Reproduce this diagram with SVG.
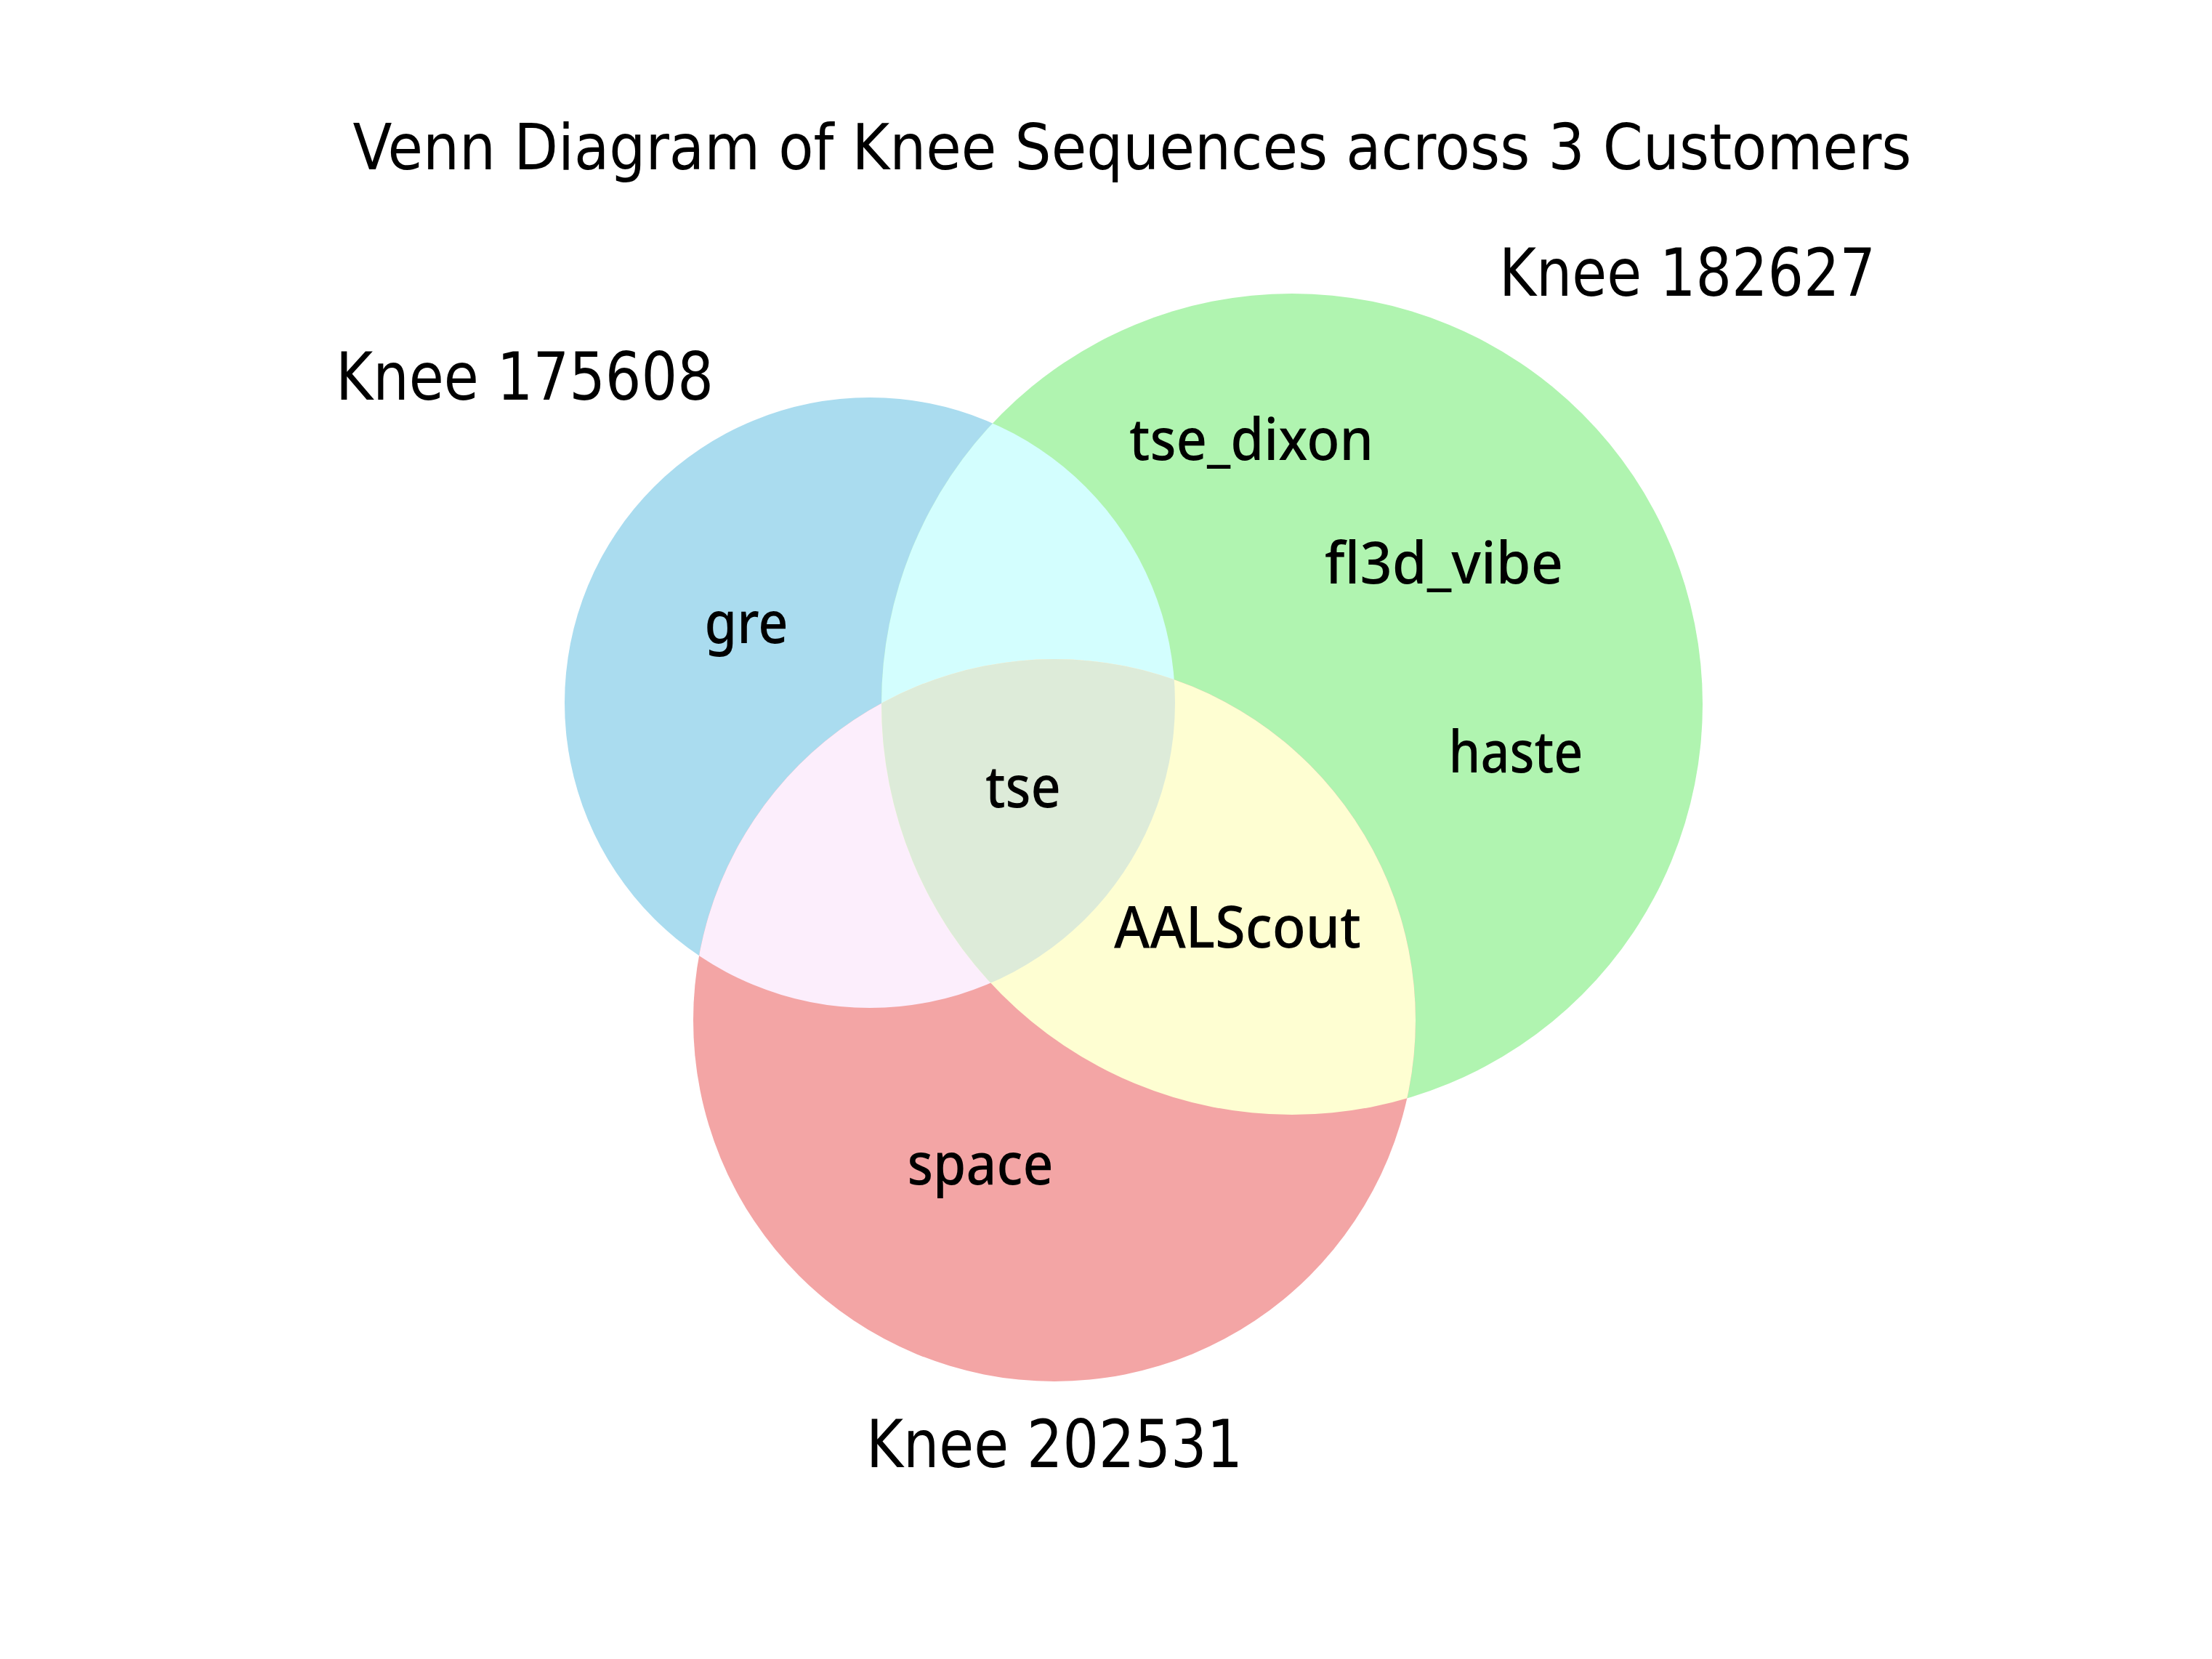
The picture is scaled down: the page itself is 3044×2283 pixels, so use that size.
<svg xmlns="http://www.w3.org/2000/svg" width="3044" height="2283" viewBox="0 0 3044 2283">
  <style>
    .title { font-family: "DejaVu Sans", "Liberation Sans", sans-serif; font-size: 87px; fill: #000; }
    .setlbl { font-family: "DejaVu Sans", "Liberation Sans", sans-serif; font-size: 90px; fill: #000; }
    .sub { font-family: "Noto Sans", "Open Sans", sans-serif; font-size: 80px; font-weight: 500; fill: #000; }
  </style>
  <defs>
    <clipPath id="cA"><circle cx="1197" cy="967" r="420"/></clipPath>
    <clipPath id="cB"><circle cx="1778" cy="969" r="565"/></clipPath>
    <clipPath id="cC"><circle cx="1451" cy="1404" r="497"/></clipPath>
  </defs>
  <rect width="3044" height="2283" fill="#ffffff"/>

  <g id="title">
    <text class="title" x="1558" y="233" text-anchor="middle" textLength="2145" lengthAdjust="spacingAndGlyphs">Venn Diagram of Knee Sequences across 3 Customers</text>
  </g>

  <g id="set-175608">
    <circle cx="1197" cy="967" r="420" fill="#AADCEF"/>
  </g>
  <g id="set-182627">
    <circle cx="1778" cy="969" r="565" fill="#B0F4B0"/>
  </g>
  <g id="set-202531">
    <circle cx="1451" cy="1404" r="497" fill="#F3A5A5"/>
  </g>

  <g id="intersections">
    <g id="ab" clip-path="url(#cA)"><circle cx="1778" cy="969" r="565" fill="#D3FEFE"/></g>
    <g id="ac" clip-path="url(#cA)"><circle cx="1451" cy="1404" r="497" fill="#FCEEFC"/></g>
    <g id="bc" clip-path="url(#cB)"><circle cx="1451" cy="1404" r="497" fill="#FEFED2"/></g>
    <g id="abc" clip-path="url(#cA)"><g clip-path="url(#cB)"><circle cx="1451" cy="1404" r="497" fill="#DDEBD9"/></g></g>
  </g>

  <g id="set-labels">
    <text class="setlbl" x="722" y="550" text-anchor="middle" textLength="520" lengthAdjust="spacingAndGlyphs">Knee 175608</text>
    <text class="setlbl" x="2322" y="407" text-anchor="middle" textLength="518" lengthAdjust="spacingAndGlyphs">Knee 182627</text>
    <text class="setlbl" x="1451" y="2019" text-anchor="middle" textLength="518" lengthAdjust="spacingAndGlyphs">Knee 202531</text>
  </g>

  <g id="subset-labels">
    <text class="sub" x="1027" y="885" text-anchor="middle" textLength="115" lengthAdjust="spacingAndGlyphs">gre</text>
    <text class="sub" x="1722" y="633" text-anchor="middle" textLength="336" lengthAdjust="spacingAndGlyphs">tse_dixon</text>
    <text class="sub" x="1987" y="803" text-anchor="middle" textLength="328" lengthAdjust="spacingAndGlyphs">fl3d_vibe</text>
    <text class="sub" x="2086" y="1063" text-anchor="middle" textLength="185" lengthAdjust="spacingAndGlyphs">haste</text>
    <text class="sub" x="1408" y="1111" text-anchor="middle" textLength="104" lengthAdjust="spacingAndGlyphs">tse</text>
    <text class="sub" x="1703" y="1304" text-anchor="middle" textLength="340" lengthAdjust="spacingAndGlyphs">AALScout</text>
    <text class="sub" x="1349" y="1630" text-anchor="middle" textLength="201" lengthAdjust="spacingAndGlyphs">space</text>
  </g>
</svg>
